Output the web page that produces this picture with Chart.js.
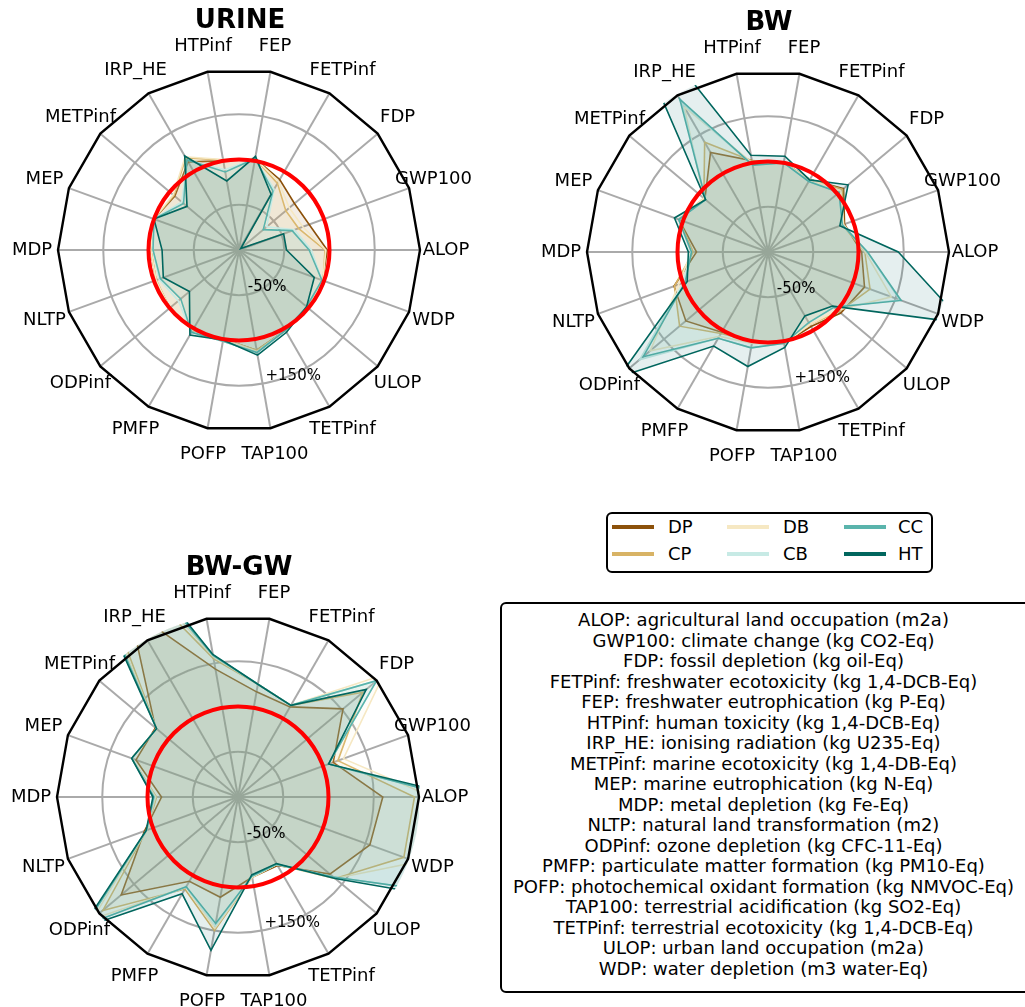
<!DOCTYPE html>
<html>
<head>
<meta charset="utf-8">
<script src="https://cdn.jsdelivr.net/npm/chart.js@4.4.1/dist/chart.umd.min.js"></script>
<style>
  html, body { margin: 0; padding: 0; background: #fff; }
  body { width: 1025px; height: 1007px; overflow: hidden; position: relative; font-family: 'DejaVu Sans', sans-serif; color: #000; }
  canvas { position: absolute; }
  .box { position: absolute; border: 2px solid #000; border-radius: 6px; box-sizing: border-box; background: #fff; }
  .key-line { position: absolute; height: 4px; width: 42px; }
  .key-text { position: absolute; font-size: 18px; line-height: 22px; }
  #notes { left: 500px; top: 602px; width: 530px; height: 391px; text-align: center; font-size: 18px; line-height: 20.5px; padding-top: 6px; padding-right: 3px; }
</style>
</head>
<body>
<canvas id="urine" width="520" height="520" style="left:-21px; top:-10px"></canvas>
<canvas id="bw" width="520" height="520" style="left:508px; top:-8px"></canvas>
<canvas id="bwgw" width="520" height="520" style="left:-22px; top:537px"></canvas>
<div class="box" id="legend" style="left:606px; top:512px; width:327px; height:61px"></div>
<div class="box" id="notes"></div>
<script>
// impact categories, counter-clockwise from east
const axisNames = ['ALOP', 'GWP100', 'FDP', 'FETPinf', 'FEP', 'HTPinf', 'IRP_HE', 'METPinf', 'MEP',
  'MDP', 'NLTP', 'ODPinf', 'PMFP', 'POFP', 'TAP100', 'TETPinf', 'ULOP', 'WDP'];
const axisDescriptions = [
  'agricultural land occupation (m2a)', 'climate change (kg CO2-Eq)', 'fossil depletion (kg oil-Eq)',
  'freshwater ecotoxicity (kg 1,4-DCB-Eq)', 'freshwater eutrophication (kg P-Eq)', 'human toxicity (kg 1,4-DCB-Eq)',
  'ionising radiation (kg U235-Eq)', 'marine ecotoxicity (kg 1,4-DB-Eq)', 'marine eutrophication (kg N-Eq)',
  'metal depletion (kg Fe-Eq)', 'natural land transformation (m2)', 'ozone depletion (kg CFC-11-Eq)',
  'particulate matter formation (kg PM10-Eq)', 'photochemical oxidant formation (kg NMVOC-Eq)',
  'terrestrial acidification (kg SO2-Eq)', 'terrestrial ecotoxicity (kg 1,4-DCB-Eq)',
  'urban land occupation (m2a)', 'water depletion (m3 water-Eq)'];

const seriesNames = ['DP', 'CP', 'DB', 'CB', 'CC', 'HT'];
const seriesColors = ['#8c510a', '#d8b365', '#f6e8c3', '#c7eae5', '#5ab4ac', '#01665e'];

// radial position: 1 = -50 %, 2 = reference (red circle), 3 = +150 %, 4 = outer frame
const tickValues = [1, 3];
const tickLabels = ['-50%', '+150%'];
const baseValue = 2;

const urineDP = [1.95, 1.65, 1.6, 1.8, 2.05, 2.0, 2.25, 1.85, 2.0, 1.95, 1.95, 2.0, 2.05, 2.0, 2.25, 2.05, 2.0, 1.97];
const urineCP = [1.9, 1.4, 1.35, 1.7, 2.05, 2.02, 2.35, 1.88, 2.0, 1.95, 1.95, 2.0, 2.05, 2.0, 2.25, 2.05, 2.0, 1.98];
const urineDB = [1.92, 1.5, 1.45, 1.75, 2.05, 2.03, 2.38, 1.9, 2.0, 1.95, 1.95, 2.0, 2.05, 2.0, 2.28, 2.05, 2.0, 1.97];
const urineCB = [1.6, 1.3, 0.8, 1.55, 2.05, 1.8, 2.3, 1.65, 2.0, 1.9, 1.88, 1.75, 2.1, 2.05, 2.3, 2.05, 1.95, 1.95];
const urineCC = [1.55, 1.25, 0.7, 1.5, 2.05, 1.75, 2.3, 1.6, 2.0, 1.9, 1.85, 1.68, 2.1, 2.05, 2.3, 2.05, 1.95, 1.95];
const urineHT = [1.05, 1.05, 0.05, 1.42, 2.1, 1.55, 2.4, 1.5, 2.0, 1.7, 1.78, 1.43, 2.17, 2.02, 2.36, 2.1, 1.95, 1.77];

const bwDP = [2.07, 1.8, 2.18, 1.85, 2.0, 2.05, 2.54, 1.82, 2.1, 1.58, 2.21, 2.37, 2.05, 2.0, 2.05, 1.9, 2.1, 2.27];
const bwCP = [2.14, 1.75, 2.15, 1.85, 2.0, 2.05, 2.8, 1.85, 2.1, 1.65, 2.2, 2.55, 2.08, 2.0, 2.05, 1.85, 2.05, 2.4];
const bwDB = [2.15, 1.78, 2.1, 1.85, 2.0, 2.0, 3.7, 1.85, 2.1, 1.7, 2.1, 3.4, 2.15, 2.05, 2.05, 1.85, 2.0, 2.9];
const bwCB = [2.2, 1.75, 2.05, 1.8, 2.0, 1.95, 3.8, 1.8, 2.1, 1.7, 2.0, 3.7, 2.2, 2.15, 2.05, 1.8, 1.9, 3.1];
const bwCC = [2.2, 1.75, 2.05, 1.8, 2.0, 1.95, 3.9, 1.8, 2.1, 1.69, 1.95, 3.6, 2.2, 2.15, 2.05, 1.8, 1.9, 3.13];
const bwHT = [2.88, 1.69, 2.31, 1.84, 2.15, 2.17, 7.0, 1.8, 2.2, 1.76, 1.9, 4.3, 2.4, 2.57, 2.14, 1.63, 1.86, 4.6];

const bwgwDP = [3.2, 2.24, 3.03, 2.3, 2.36, 2.87, 4.8, 2.38, 2.4, 1.69, 2.2, 3.37, 2.15, 2.25, 1.8, 1.75, 2.65, 3.1];
const bwgwCP = [3.9, 2.35, 3.6, 2.34, 2.53, 3.1, 7.0, 2.35, 2.5, 1.8, 2.15, 3.9, 2.35, 3.0, 1.8, 1.72, 2.8, 3.9];
const bwgwDB = [4.3, 2.48, 4.2, 2.34, 2.53, 3.15, 8.0, 2.35, 2.5, 1.82, 2.15, 4.2, 2.3, 2.95, 1.8, 1.72, 2.8, 4.2];
const bwgwCB = [4.8, 2.13, 4.0, 2.34, 2.53, 3.18, 9.0, 2.35, 2.5, 1.85, 2.15, 4.4, 2.3, 2.9, 1.78, 1.72, 2.75, 7.0];
const bwgwCC = [4.8, 2.13, 4.0, 2.34, 2.53, 3.18, 9.0, 2.35, 2.5, 1.86, 2.15, 4.4, 2.29, 2.84, 1.78, 1.72, 2.75, 7.0];
const bwgwHT = [5.0, 2.13, 3.7, 2.34, 2.53, 3.2, 10.0, 2.35, 2.5, 1.88, 2.16, 4.5, 2.47, 3.44, 1.75, 1.7, 2.8, 8.0];

const FONT = "'DejaVu Sans', sans-serif";
const GRID = '#aaaaaa';

// chart.js walks the axes clockwise, the figure goes counter-clockwise from east
const clockwise = arr => [arr[0], ...arr.slice(1).reverse()];

function rgba(hex, a) {
  const n = parseInt(hex.slice(1), 16);
  return `rgba(${n >> 16},${(n >> 8) & 255},${n & 255},${a})`;
}

// clip to the outer circle, red reference circle, frame, labels, title
const radarDecor = {
  id: 'radarDecor',
  beforeDatasetsDraw(chart) {
    const s = chart.scales.r, ctx = chart.ctx;
    ctx.save();
    ctx.beginPath();
    ctx.arc(s.xCenter, s.yCenter, s.drawingArea + 1, 0, Math.PI * 2);
    ctx.clip();
  },
  afterDatasetsDraw(chart, args, opts) {
    const s = chart.scales.r, ctx = chart.ctx;
    ctx.restore();
    ctx.save();
    ctx.beginPath();
    ctx.arc(s.xCenter, s.yCenter, s.getDistanceFromCenterForValue(baseValue), 0, Math.PI * 2);
    ctx.strokeStyle = '#ff0000';
    ctx.lineWidth = 4;
    ctx.stroke();

    const n = chart.data.labels.length;
    ctx.beginPath();
    for (let i = 0; i < n; i++) {
      const p = s.getPointPosition(i, s.drawingArea);
      if (!i) ctx.moveTo(p.x, p.y); else ctx.lineTo(p.x, p.y);
    }
    ctx.closePath();
    ctx.strokeStyle = '#000';
    ctx.lineWidth = 2.4;
    ctx.stroke();

    ctx.fillStyle = '#000';
    ctx.font = '18px ' + FONT;
    ctx.textAlign = 'center';
    ctx.textBaseline = 'middle';
    chart.data.labels.forEach((lab, i) => {
      const p = s.getPointPosition(i, s.drawingArea + 26);
      ctx.fillText(lab, p.x, p.y);
    });

    // radial tick labels sit along a ray just right of straight down
    const ang = 78.75 * Math.PI / 180;
    ctx.font = '15px ' + FONT;
    ctx.textAlign = 'left';
    ctx.textBaseline = 'bottom';
    tickValues.forEach((v, i) => {
      const r = s.getDistanceFromCenterForValue(v);
      ctx.fillText(tickLabels[i], s.xCenter + r * Math.cos(ang), s.yCenter + r * Math.sin(ang));
    });

    ctx.font = 'bold 26px ' + FONT;
    ctx.textAlign = 'center';
    ctx.textBaseline = 'middle';
    ctx.fillText(opts.title, s.xCenter + 1, s.yCenter - 229);
    ctx.restore();
  }
};

function makeRadar(id, title, series) {
  new Chart(document.getElementById(id), {
    type: 'radar',
    data: {
      labels: clockwise(axisNames),
      datasets: series.map((vals, i) => ({
        label: seriesNames[i],
        data: clockwise(vals),
        borderColor: seriesColors[i],
        backgroundColor: rgba(seriesColors[i], 0.1),
        borderWidth: 1.6,
        pointRadius: 0,
        fill: true,
        tension: 0,
        order: series.length - i
      }))
    },
    options: {
      responsive: false,
      animation: false,
      devicePixelRatio: 1,
      layout: { padding: 79 },
      plugins: {
        legend: { display: false },
        tooltip: { enabled: false },
        radarDecor: { title }
      },
      scales: {
        r: {
          min: 0,
          max: 4,
          startAngle: 90,
          ticks: { stepSize: 1, display: false },
          grid: {
            circular: true,
            color: c => (c.tick && c.tick.value === 4) ? 'rgba(0,0,0,0)' : GRID,
            lineWidth: 2
          },
          angleLines: { color: GRID, lineWidth: 2 },
          pointLabels: { display: false }
        }
      }
    },
    plugins: [radarDecor]
  });
}

makeRadar('urine', 'URINE', [urineDP, urineCP, urineDB, urineCB, urineCC, urineHT]);
makeRadar('bw', 'BW', [bwDP, bwCP, bwDB, bwCB, bwCC, bwHT]);
makeRadar('bwgw', 'BW-GW', [bwgwDP, bwgwCP, bwgwDB, bwgwCB, bwgwCC, bwgwHT]);

// series legend, filled column by column
const legend = document.getElementById('legend');
const keyX = [612, 727, 844], textX = [668, 783, 898], rowY = [527, 554];
seriesNames.forEach((name, i) => {
  const col = Math.floor(i / 2), row = i % 2;
  const line = document.createElement('div');
  line.className = 'key-line';
  line.style.background = seriesColors[i];
  line.style.left = (keyX[col] - 608) + 'px';
  line.style.top = (rowY[row] - 2 - 514) + 'px';
  legend.appendChild(line);
  const txt = document.createElement('div');
  txt.className = 'key-text';
  txt.textContent = name;
  txt.style.left = (textX[col] - 608) + 'px';
  txt.style.top = (rowY[row] - 11 - 514) + 'px';
  legend.appendChild(txt);
});

document.getElementById('notes').innerHTML =
  axisNames.map((a, i) => a + ': ' + axisDescriptions[i]).join('<br>');
</script>
</body>
</html>
